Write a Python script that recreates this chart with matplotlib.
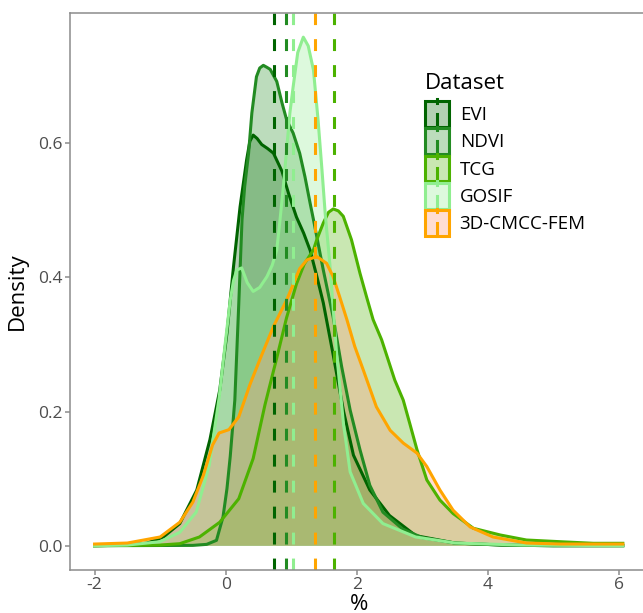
# Density of five datasets with their mean values as dashed lines
import matplotlib
matplotlib.use("Agg")
import matplotlib.pyplot as plt
from matplotlib.patches import Rectangle, Patch
from matplotlib.lines import Line2D
from matplotlib.colors import to_rgba

plt.rcParams['font.family'] = ['Open Sans', 'DejaVu Sans']
plt.rcParams['axes.unicode_minus'] = False

# Data
datasets = ["EVI", "NDVI", "TCG", "GOSIF", "3D-CMCC-FEM"]

evi_x = [-2.0, -1.45, -1.2, -0.95, -0.7, -0.44, -0.24, -0.09, 0.02, 0.12, 0.22, 0.27, 0.32, 0.37, 0.42,
         0.48, 0.55, 0.64, 0.73, 0.86, 0.96, 1.08, 1.19, 1.29, 1.39, 1.49, 1.64, 1.80, 1.95, 2.2, 2.5,
         2.9, 3.5, 4.2, 5.0, 6.06]
evi_y = [0.0, 0.001, 0.004, 0.013, 0.033, 0.083, 0.158, 0.232, 0.317, 0.416, 0.505, 0.540, 0.575, 0.603, 0.612,
         0.607, 0.598, 0.592, 0.585, 0.558, 0.525, 0.490, 0.466, 0.440, 0.402, 0.362, 0.285, 0.200, 0.135, 0.083, 0.045,
         0.015, 0.004, 0.001, 0.0, 0.0]

ndvi_x = [-2.0, -0.5, -0.29, -0.14, -0.04, 0.02, 0.07, 0.14, 0.20, 0.25, 0.29, 0.35, 0.40, 0.47, 0.52, 0.575,
          0.63, 0.68, 0.78, 0.86, 0.93, 1.03, 1.13, 1.21, 1.29, 1.34, 1.49, 1.64, 1.77, 1.90, 2.05, 2.2, 2.4,
          2.7, 3.0, 3.5, 4.2, 5.0, 6.06]
ndvi_y = [0.0, 0.0005, 0.002, 0.008, 0.043, 0.085, 0.133, 0.217, 0.36, 0.486, 0.535, 0.585, 0.645, 0.699, 0.712, 0.716,
          0.713, 0.710, 0.692, 0.660, 0.635, 0.615, 0.585, 0.550, 0.510, 0.486, 0.411, 0.341, 0.267, 0.202, 0.143, 0.09, 0.05,
          0.025, 0.012, 0.004, 0.001, 0.0, 0.0]

tcg_x = [-2.0, -1.0, -0.7, -0.4, -0.09, 0.2, 0.42, 0.6, 0.78, 0.93, 1.08, 1.2, 1.34, 1.39, 1.49, 1.57, 1.643,
         1.72, 1.795, 1.92, 2.05, 2.15, 2.25, 2.38, 2.48, 2.58, 2.71, 2.81, 2.92, 3.07, 3.27, 3.47, 3.78, 4.19,
         4.59, 5.1, 5.61, 6.06]
tcg_y = [0.0, 0.001, 0.003, 0.013, 0.035, 0.07, 0.13, 0.21, 0.28, 0.34, 0.39, 0.42, 0.441, 0.456, 0.481, 0.497, 0.502,
         0.499, 0.491, 0.456, 0.406, 0.371, 0.337, 0.307, 0.277, 0.247, 0.217, 0.182, 0.143, 0.098, 0.068, 0.048, 0.026, 0.016,
         0.0085, 0.006, 0.0036, 0.0036]

gosif_x = [-2.0, -1.5, -1.0, -0.7, -0.45, -0.25, -0.1, 0.0, 0.07, 0.12, 0.17, 0.245, 0.33, 0.42, 0.52, 0.63,
           0.71, 0.78, 0.83, 0.88, 0.93, 0.98, 1.03, 1.1, 1.185, 1.26, 1.34, 1.41, 1.47, 1.52, 1.59, 1.69,
           1.8, 1.9, 2.1, 2.4, 2.9, 3.5, 4.5, 6.06]
gosif_y = [0.0, 0.001, 0.006, 0.02, 0.05, 0.12, 0.22, 0.307, 0.366, 0.395, 0.411, 0.414, 0.392, 0.379, 0.385, 0.401,
           0.418, 0.441, 0.486, 0.535, 0.59, 0.645, 0.684, 0.735, 0.758, 0.745, 0.709, 0.635, 0.560, 0.494, 0.42, 0.29,
           0.18, 0.11, 0.063, 0.033, 0.013, 0.004, 0.001, 0.0]

cmcc_x = [-2.0, -1.5, -1.0, -0.7, -0.5, -0.34, -0.2, -0.1, 0.05, 0.2, 0.37, 0.52, 0.73, 0.93, 1.13, 1.24,
          1.39, 1.54, 1.64, 1.74, 1.85, 1.97, 2.1, 2.3, 2.51, 2.71, 2.92, 3.07, 3.27, 3.47, 3.73, 4.08,
          4.59, 5.1, 6.06]
cmcc_y = [0.0025, 0.004, 0.013, 0.035, 0.065, 0.105, 0.15, 0.168, 0.173, 0.192, 0.24, 0.277, 0.327, 0.366, 0.413, 0.426,
          0.431, 0.421, 0.401, 0.371, 0.337, 0.297, 0.262, 0.207, 0.172, 0.153, 0.138, 0.118, 0.083, 0.053, 0.028, 0.013,
          0.004, 0.0025, 0.0025]

# mean of each dataset (dashed lines)
means = [0.745, 0.916, 1.653, 1.035, 1.359]

xs = [evi_x, ndvi_x, tcg_x, gosif_x, cmcc_x]
ys = [evi_y, ndvi_y, tcg_y, gosif_y, cmcc_y]

line_colors = ["#006400", "#228B22", "#4CB200", "#90EE90", "#FFA500"]
fill_colors = ["#006400", "#228B22", "#4CB200", "#90EE90", "#FF9F80"]
fill_alpha = [0.3, 0.3, 0.3, 0.3, 0.35]


class KeyHandler:
    # filled square key with a short vertical stem, like the ggplot key
    def legend_artist(self, legend, orig_handle, fontsize, handlebox):
        x0, y0 = -handlebox.xdescent, -handlebox.ydescent
        w, h = handlebox.width, handlebox.height
        tr = handlebox.get_transform()
        ec = orig_handle.get_edgecolor()
        rect = Rectangle((x0, y0), w, h, facecolor=orig_handle.get_facecolor(),
                         edgecolor=ec, lw=2.2, transform=tr)
        handlebox.add_artist(rect)
        stem = Line2D([x0 + w / 2] * 2, [y0, y0 + h / 2], color=ec, lw=2.2, transform=tr)
        handlebox.add_artist(stem)
        top = Line2D([x0 + w / 2] * 2, [y0 + h * 0.92, y0 + h * 1.06], color=ec, lw=2.2, transform=tr)
        handlebox.add_artist(top)
        return rect


fig = plt.figure(figsize=(6.43, 6.13), dpi=100)
ax = fig.add_axes([70 / 643, 43 / 613, 579 / 643, 557 / 613])

for x, y, lc, fc, a in zip(xs, ys, line_colors, fill_colors, fill_alpha):
    ax.fill_between(x, y, 0, facecolor=to_rgba(fc, a), edgecolor='none')
    ax.plot(x, y, color=lc, lw=2.2, solid_joinstyle='round')

for m, lc in zip(means, line_colors):
    ax.axvline(m, color=lc, lw=2.2, linestyle=(0, (3.9, 4.6)))

ax.set_xlim(-2.375, 6.46)
ax.set_ylim(-0.0362, 0.794)
ax.set_xticks([-2, 0, 2, 4, 6])
ax.set_yticks([0.0, 0.2, 0.4, 0.6])
ax.set_yticklabels(["0.0", "0.2", "0.4", "0.6"])

for s in ax.spines.values():
    s.set_color('#8c8c8c')
    s.set_linewidth(1.1)
ax.tick_params(length=3.3, width=1.1, color='#8c8c8c', labelcolor='#4d4d4d', labelsize=12.5, pad=2)

ax.set_xlabel("%", fontsize=16)
ax.set_ylabel("Density", fontsize=16)
ax.xaxis.set_label_coords(0.5, -0.043)
ax.yaxis.set_label_coords(-0.072, 0.5)

handles = [Patch(facecolor=to_rgba(fc, a), edgecolor=lc)
           for lc, fc, a in zip(line_colors, fill_colors, fill_alpha)]
leg = ax.legend(handles, datasets, handler_map={Patch: KeyHandler()}, title="Dataset",
                loc='upper left', bbox_to_anchor=(425 / 643, 1 - 73 / 613), bbox_transform=fig.transFigure,
                frameon=False, fontsize=13.5, title_fontsize=16, handlelength=1.3, handleheight=1.74,
                handletextpad=0.55, labelspacing=0.08, borderpad=0, borderaxespad=0, alignment='left')
leg._legend_box.sep = 5

fig.savefig("out.png", dpi=100)
